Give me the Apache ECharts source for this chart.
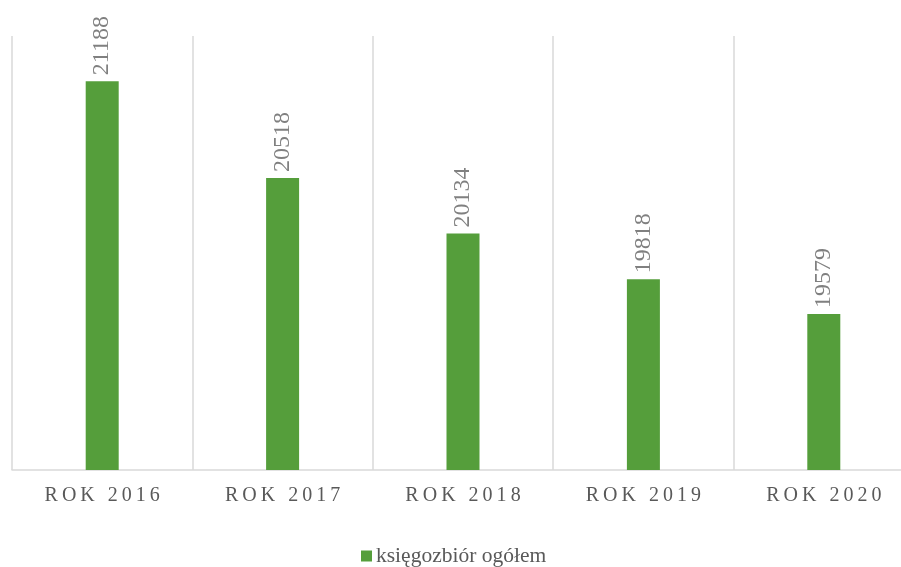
<!DOCTYPE html>
<html>
<head>
<meta charset="utf-8">
<script src="https://cdn.jsdelivr.net/npm/echarts@6/dist/echarts.min.js"></script>
<style>html,body{margin:0;padding:0;background:#fff;overflow:hidden;width:901px;height:567px}#c{width:914px;height:567px}</style>
</head>
<body>
<div id="c"></div>
<script>
var categories = ['ROK 2016', 'ROK 2017', 'ROK 2018', 'ROK 2019', 'ROK 2020'];
var seriesName = 'księgozbiór ogółem';
var values = [21188, 20518, 20134, 19818, 19579];
var yMin = 18500;
var yMax = 21500;

function spread(s) {
  return String(s).split('').join('\u2009');
}

var chart = echarts.init(document.getElementById('c'), null, {renderer: 'canvas'});
chart.setOption({
  animation: false,
  backgroundColor: '#ffffff',
  textStyle: {fontFamily: 'Liberation Serif'},
  grid: {left: 12, top: 36, right: 0, bottom: 97, containLabel: false},
  xAxis: {
    type: 'category',
    data: categories,
    boundaryGap: true,
    axisLine: {show: true, lineStyle: {color: '#d9d9d9', width: 1.5}},
    axisTick: {show: false},
    splitLine: {show: true, lineStyle: {color: '#d9d9d9', width: 1.5}},
    axisLabel: {
      margin: 16,
      fontSize: 20,
      color: '#595959',
      fontFamily: 'Liberation Serif',
      formatter: function (v) { return spread(v); }
    }
  },
  yAxis: {
    type: 'value',
    min: yMin,
    max: yMax,
    show: false,
    splitLine: {show: false}
  },
  legend: {
    show: true,
    data: [seriesName],
    top: 540,
    left: 356,
    icon: 'rect',
    itemWidth: 11,
    itemHeight: 11,
    itemGap: 4,
    textStyle: {fontSize: 21.5, color: '#595959', fontFamily: 'Liberation Serif', padding: [0, 0, 0, -1]}
  },
  series: [{
    name: seriesName,
    type: 'bar',
    data: values,
    barWidth: 33,
    itemStyle: {color: '#559E3B'},
    label: {
      show: true,
      position: 'top',
      rotate: 90,
      distance: 6,
      align: 'left',
      verticalAlign: 'middle',
      fontSize: 24,
      color: '#808080',
      fontFamily: 'Liberation Serif'
    }
  }]
});
</script>
</body>
</html>
